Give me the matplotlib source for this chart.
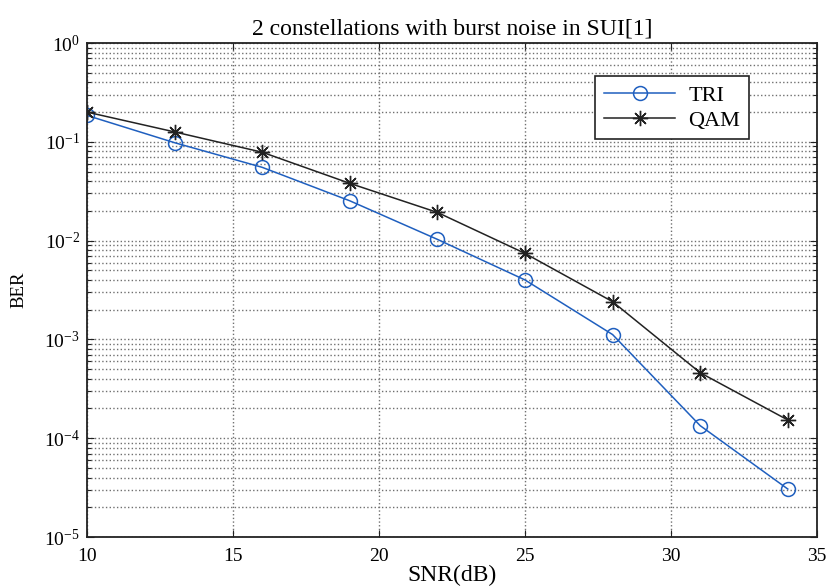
import matplotlib
matplotlib.use("Agg")
import matplotlib.pyplot as plt

# SNR points and BER
snr = [10, 13, 16, 19, 22, 25, 28, 31, 34]
ber_tri = [0.185, 0.098, 0.0552, 0.0253, 0.0103, 0.0040, 1.12e-3, 1.34e-4, 3.06e-5]
ber_qam = [0.200, 0.126, 0.0785, 0.0380, 0.0193, 0.00743, 2.41e-3, 4.6e-4, 1.53e-4]

x_ticks = [10, 15, 20, 25, 30, 35]

plt.rcParams['font.family'] = ['Liberation Serif', 'DejaVu Serif']
plt.rcParams['mathtext.fontset'] = 'custom'
plt.rcParams['mathtext.rm'] = 'Liberation Serif'

fig = plt.figure(figsize=(8.27, 5.88), dpi=100)
ax = fig.add_axes([0.1052, 0.0867, 0.8827, 0.8401])

ax.semilogy(snr, ber_tri, color='#1f5fbf', lw=1.1, marker='o', ms=10,
            mfc='none', mec='#1f5fbf', mew=1.1, label='TRI')
ax.semilogy(snr, ber_qam, color='#222222', lw=1.1, marker=(8, 2, 0), ms=11,
            mec='#222222', mew=1.0, label='QAM')

ax.set_xlim(10, 35)
ax.set_ylim(1e-5, 1)
ax.set_xticks(x_ticks)

ax.grid(True, which='major', ls=':', color='#707070', lw=1.0)
ax.grid(True, which='minor', axis='y', ls=':', color='#707070', lw=1.0)

ax.tick_params(which='both', direction='in', top=True, right=True,
               labelsize=14, width=0.8, color='#222222')
ax.tick_params(which='major', length=5)
ax.tick_params(which='minor', length=3)
ax.tick_params(axis='x', pad=8)
ax.tick_params(axis='y', pad=5)
for s in ax.spines.values():
    s.set_linewidth(1.3)
    s.set_color('#222222')

ax.set_title('2 constellations with burst noise in SUI[1]', fontsize=17, pad=6)
ax.set_xlabel('SNR(dB)', fontsize=17, labelpad=0)
ax.set_ylabel('BER', fontsize=13.5, labelpad=12)

leg = ax.legend(loc='upper left', bbox_to_anchor=(0.696, 0.933), borderaxespad=0,
                fontsize=16, fancybox=False, framealpha=1, edgecolor='#222222',
                handlelength=3.2, handletextpad=0.6, borderpad=0.4,
                labelspacing=0.2)
leg.get_frame().set_linewidth(1.2)

fig.savefig('out.png', dpi=100)
